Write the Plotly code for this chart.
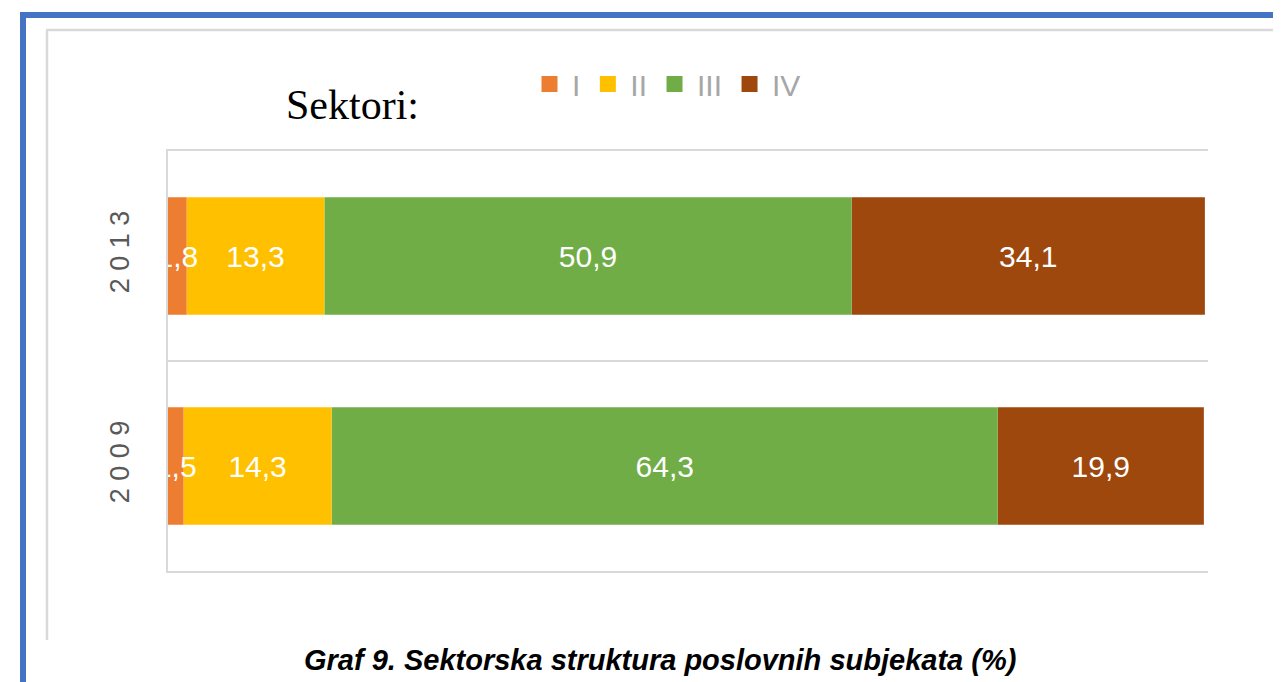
import plotly.graph_objects as go

# ---- data ----
years = ["2009", "2013"]
year_labels = ["2 0 0 9", "2 0 1 3"]
sectors = ["I", "II", "III", "IV"]
sector_I = [1.5, 1.8]
sector_II = [14.3, 13.3]
sector_III = [64.3, 50.9]
sector_IV = [19.9, 34.1]
colors = ["#ED7D31", "#FFC000", "#70AD47", "#9E480E"]
title_text = "Sektori:"
caption_text = "Graf 9. Sektorska struktura poslovnih subjekata (%)"

OFF = 8  # page body margin
W, H = 1281 - OFF, 682 - OFF
L, R, T, B = 168, 1208, 151, 571  # plot area in page pixels

def px(x):
    return (x - L) / (R - L)

def py(y):
    return (B - y) / (B - T)

series = [sector_I, sector_II, sector_III, sector_IV]
# cumulative bases computed from the data
bases = []
running = [0.0] * len(years)
for vals in series:
    bases.append(list(running))
    running = [r + v for r, v in zip(running, vals)]

fig = go.Figure()
# draw in reverse so that the thin first segment's label sits on top
for name, vals, base, col in reversed(list(zip(sectors, series, bases, colors))):
    fig.add_trace(go.Bar(
        y=years, x=vals, base=base, name=name, orientation="h",
        marker=dict(color=col, line=dict(width=0)),
        texttemplate="%{x:.1f}", textposition="inside", insidetextanchor="middle",
        textangle=0, constraintext="none", cliponaxis=True,
        textfont=dict(color="white", size=30, family="Liberation Sans"),
        hoverinfo="skip", showlegend=False,
    ))
# legend entries with larger square keys
for name, col in zip(sectors, colors):
    fig.add_trace(go.Scatter(
        x=[None], y=[None], mode="markers", name=name,
        marker=dict(symbol="square", size=20, color=col), showlegend=True,
    ))

shapes = [
    dict(type="line", xref="paper", yref="paper", x0=px(20), x1=px(1290), y0=py(15), y1=py(15),
         line=dict(color="#4472C4", width=6)),
    dict(type="line", xref="paper", yref="paper", x0=px(23), x1=px(23), y0=py(12), y1=py(700),
         line=dict(color="#4472C4", width=6)),
    dict(type="line", xref="paper", yref="paper", x0=px(46), x1=px(1278), y0=py(30), y1=py(30),
         line=dict(color="#D9D9D9", width=2.5)),
    dict(type="line", xref="paper", yref="paper", x0=px(47), x1=px(47), y0=py(30), y1=py(640),
         line=dict(color="#D9D9D9", width=2.5)),
]

fig.update_layout(
    width=W, height=H,
    margin=dict(l=L - OFF, r=W - (R - OFF), t=T - OFF, b=H - (B - OFF), pad=0),
    paper_bgcolor="white", plot_bgcolor="white",
    barmode="overlay", bargap=0.44,
    separators=", ",
    showlegend=True,
    legend=dict(orientation="h", x=px(527), xanchor="left", y=py(84), yanchor="middle",
                itemwidth=35,
                font=dict(family="Liberation Sans", size=30, color="#A6A6A6"),
                bgcolor="rgba(0,0,0,0)", borderwidth=0, traceorder="normal"),
    xaxis=dict(range=[0, 100.4], showticklabels=False, showgrid=False, zeroline=False,
               ticks="", showline=True, mirror=True, linecolor="#D9D9D9", linewidth=2,
               fixedrange=True),
    yaxis=dict(type="category", categoryorder="array", categoryarray=years,
               tickvals=years, ticktext=year_labels, tickangle=-90,
               range=[-0.5, 1.5], tickson="boundaries", ticks="",
               showgrid=True, gridcolor="#D9D9D9", gridwidth=2,
               showline=True, linecolor="#D9D9D9", linewidth=2,
               ticklabelstandoff=26,
               tickfont=dict(family="Liberation Sans", size=27, color="#595959"),
               zeroline=False, fixedrange=True),
    shapes=shapes,
    annotations=[
        dict(text=title_text, xref="paper", yref="paper", x=px(352), y=py(105),
             xanchor="center", yanchor="middle", showarrow=False,
             font=dict(family="Liberation Serif", size=42, color="black")),
        dict(text="<b><i>" + caption_text + "</i></b>", xref="paper", yref="paper",
             x=px(660), y=py(660), xanchor="center", yanchor="middle", showarrow=False,
             font=dict(family="Liberation Sans", size=29, color="black")),
    ],
)

fig.write_html("out.html")
